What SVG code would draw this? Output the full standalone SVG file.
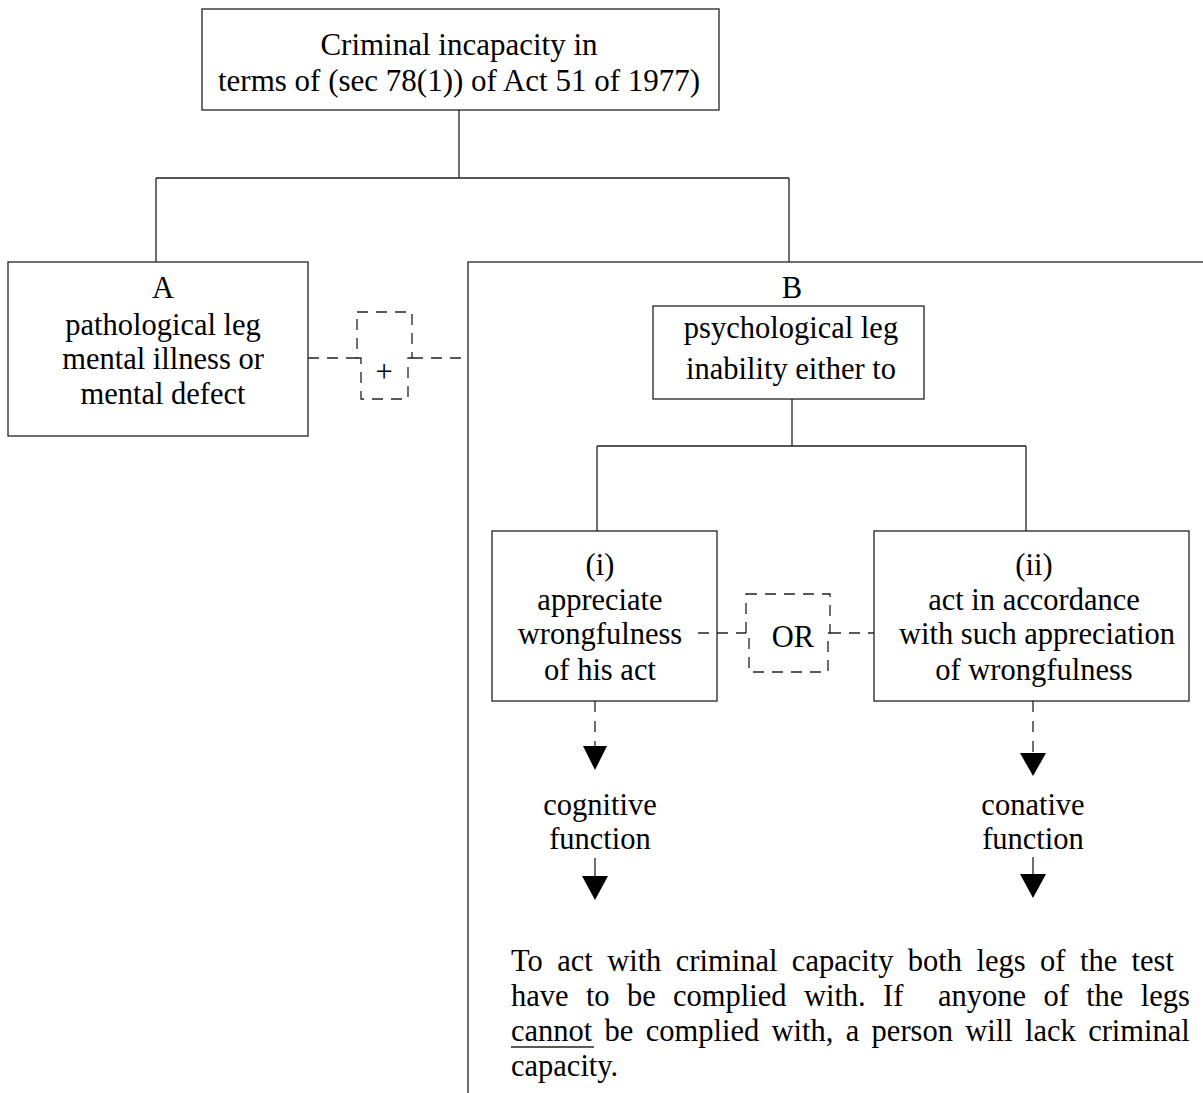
<svg xmlns="http://www.w3.org/2000/svg" width="1203" height="1093" viewBox="0 0 1203 1093">
<style>
.box{fill:#fff;stroke:#222;stroke-width:1.3}
.open{fill:none;stroke:#222;stroke-width:1.3}
.ln{fill:none;stroke:#222;stroke-width:1.3}
.dash{fill:none;stroke:#222;stroke-width:1.3;stroke-dasharray:11 8}
.vd{fill:none;stroke:#222;stroke-width:1.3;stroke-dasharray:11 9}
text{font-family:"Liberation Serif","Times New Roman",serif;font-size:30.5px;fill:#000}
.c{text-anchor:middle}
.arr{fill:#000}
</style>
<rect width="1203" height="1093" fill="#fff"/>

<g id="node-top">
<rect class="box" x="202" y="9" width="517" height="101"/>
<text class="c" x="459" y="55" style="font-size:31px">Criminal incapacity in</text>
<text class="c" x="459" y="91" style="font-size:31px">terms of (sec 78(1)) of Act 51 of 1977)</text>
</g>

<g id="node-A">
<rect class="box" x="8" y="262" width="300" height="174"/>
<text class="c" x="163" y="298">A</text>
<text class="c" x="163" y="335">pathological leg</text>
<text class="c" x="163" y="369">mental illness or</text>
<text class="c" x="163" y="404">mental defect</text>
</g>

<g id="node-plus">
<path class="dash" d="M357,312 H412 V358 H408 V399 H361 V358 H357 Z"/>
<text class="c" x="384" y="382">+</text>
</g>

<g id="node-B">
<rect class="open" x="468" y="262" width="780" height="860"/>
<text class="c" x="792" y="298">B</text>
</g>

<g id="node-psych">
<rect class="box" x="653" y="306" width="271" height="93"/>
<text class="c" x="791" y="338">psychological leg</text>
<text class="c" x="791" y="379">inability either to</text>
</g>

<g id="node-i">
<rect class="box" x="492" y="531" width="225" height="170"/>
<text class="c" x="600" y="575">(i)</text>
<text class="c" x="600" y="610">appreciate</text>
<text class="c" x="600" y="644">wrongfulness</text>
<text class="c" x="600" y="680">of his act</text>
</g>

<g id="node-or">
<path class="dash" d="M746,594 H830 V633 H828 V672 H749 V633 H746 Z"/>
<text class="c" x="793" y="647">OR</text>
</g>

<g id="node-ii">
<rect class="box" x="874" y="531" width="315" height="170"/>
<text class="c" x="1034" y="575">(ii)</text>
<text class="c" x="1034" y="610">act in accordance</text>
<text class="c" x="1037" y="644">with such appreciation</text>
<text class="c" x="1034" y="680">of wrongfulness</text>
</g>

<g id="node-cognitive">
<text class="c" x="600" y="815">cognitive</text>
<text class="c" x="600" y="849">function</text>
</g>

<g id="node-conative">
<text class="c" x="1033" y="815">conative</text>
<text class="c" x="1033" y="849">function</text>
</g>

<g id="node-note">
<text x="511" y="971" style="word-spacing:6.8px">To act with criminal capacity both legs of the test</text>
<text x="511" y="1006" style="word-spacing:9.7px">have to be complied with. If<tspan x="938">anyone of the legs</tspan></text>
<text x="511" y="1041" style="word-spacing:4.7px">cannot be complied with, a person will lack criminal</text>
<text x="511" y="1076">capacity.</text>
<line class="ln" x1="511" y1="1047" x2="594" y2="1047" style="stroke-width:1.6"/>
</g>

<g id="connectors">
<path class="ln" d="M459,110 V178 M156,178 H789 M156,178 V262 M789,178 V262"/>
<path class="ln" d="M792,399 V446 M597,446 H1026 M597,446 V531 M1026,446 V531"/>
<path class="dash" d="M308,358 H357 M412,358 H468"/>
<path class="dash" d="M698,633 H746 M830,633 H874"/>
<path class="vd" d="M595,701 V746"/>
<polygon class="arr" points="583,746 607,746 595,770"/>
<path class="vd" d="M1033,701 V753"/>
<polygon class="arr" points="1020,753 1046,753 1033,776"/>
<path class="ln" d="M595,858 V876"/>
<polygon class="arr" points="582,876 608,876 595,900"/>
<path class="ln" d="M1033,857 V874"/>
<polygon class="arr" points="1020,874 1046,874 1033,898"/>
</g>
</svg>
